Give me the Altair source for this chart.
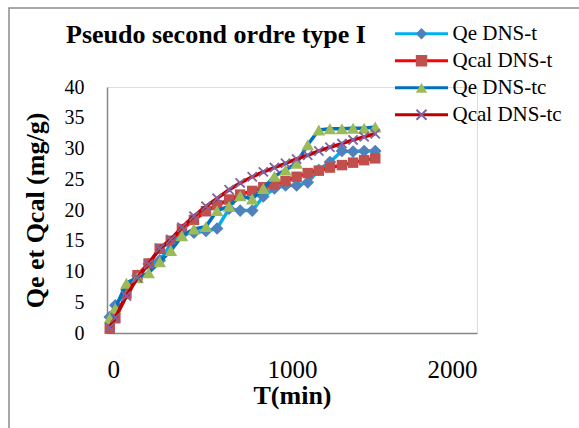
import altair as alt
import pandas as pd

# ---- data ----
t = [15, 45, 105, 165, 225, 285, 345, 405, 470, 535, 595, 660, 720, 785, 845,
     905, 965, 1025, 1085, 1145, 1205, 1270, 1330, 1390, 1450]

qe_t = [2.6, 4.5, 7.0, 9.3, 11.2, 11.8, 14.4, 16.0, 16.3, 16.6, 17.0, 20.2, 19.9,
        19.9, 22.2, 23.5, 24.0, 24.0, 24.5, 26.5, 27.8, 29.6, 29.5, 29.6, 29.6]
qcal_t = [0.7, 2.4, 6.4, 9.4, 11.3, 13.7, 15.0, 16.9, 18.4, 19.8, 20.8, 21.7, 22.5,
          23.1, 23.7, 24.2, 24.7, 25.4, 26.0, 26.4, 26.9, 27.3, 27.7, 28.1, 28.4]
qe_tc = [2.4, 4.0, 8.1, 9.0, 9.8, 11.6, 13.4, 15.8, 16.9, 17.3, 19.9, 20.6, 22.3,
         21.8, 23.5, 25.5, 26.5, 27.6, 30.6, 33.0, 33.2, 33.2, 33.3, 33.3, 33.5]
qcal_tc = [0.9, 2.5, 6.0, 9.0, 11.2, 13.8, 15.2, 17.2, 19.0, 20.6, 21.9, 23.3, 24.4,
           25.4, 26.2, 26.9, 27.6, 28.3, 28.9, 29.6, 30.2, 30.8, 31.4, 31.9, 32.4]

names = ["Qe DNS-t", "Qcal DNS-t", "Qe DNS-tc", "Qcal DNS-tc"]
marker_keys = ["m1", "m2", "m3", "m4"]
line_colors = ["#00B0F0", "#FF0000", "#0070C0", "#C00000"]
marker_colors = ["#4F81BD", "#C0504D", "#9BBB59", "#8064A2"]
x_path = ("M0,-0.25L0.75,-1L1,-0.75L0.25,0L1,0.75L0.75,1L0,0.25L-0.75,1"
          "L-1,0.75L-0.25,0L-1,-0.75L-0.75,-1Z")
shapes = ["diamond", "square", "triangle-up", x_path]
marker_sizes = [160, 110, 160, 110]

x_ticks = [0, 1000, 2000]
y_ticks = [0, 5, 10, 15, 20, 25, 30, 35, 40]

series_values = [qe_t, qcal_t, qe_tc, qcal_tc]
rows = []
for name, key, vals in zip(names, marker_keys, series_values):
    for ti, qi in zip(t, vals):
        rows.append({"t": ti, "q": qi, "series": name, "mk": key})
df = pd.DataFrame(rows)

FONT = "Liberation Serif"
GRAY = "#868686"

x_enc = alt.X("t:Q", scale=alt.Scale(domain=[0, 2000], nice=False),
              axis=alt.Axis(values=x_ticks, format="d", title="T(min)", grid=False,
                            ticks=False, domainColor=GRAY, domainWidth=1.5,
                            labelFont=FONT, labelFontSize=25, labelColor="black",
                            labelPadding=24, titleFont=FONT, titleFontSize=26,
                            titleFontWeight="bold", titleColor="black",
                            titlePadding=0))
y_enc = alt.Y("q:Q", scale=alt.Scale(domain=[0, 40], nice=False),
              axis=alt.Axis(values=y_ticks, title="Qe et Qcal (mg/g)", grid=False,
                            ticks=False, domainColor=GRAY, domainWidth=1.5,
                            labelFont=FONT, labelFontSize=20, labelColor="black",
                            labelPadding=23, titleFont=FONT, titleFontSize=26,
                            titleFontWeight="bold", titleColor="black",
                            titlePadding=16))

line_legend = alt.Legend(title=None, orient="none", legendX=286.5, legendY=-66.6,
                         symbolType="stroke", symbolSize=2809, symbolStrokeWidth=3,
                         clipHeight=26.7, rowPadding=0, padding=0, labelOffset=3,
                         labelFont=FONT, labelFontSize=21, labelColor="black",
                         labelLimit=300)
marker_legend = alt.Legend(title=None, orient="none", legendX=304, legendY=-66.6,
                           symbolSize=130, symbolStrokeWidth=0, symbolOpacity=1,
                           clipHeight=26.7, rowPadding=0, padding=0, labelOffset=3,
                           labelFont=FONT, labelFontSize=21, labelExpr="''")

stroke_enc = alt.Stroke("series:N", scale=alt.Scale(domain=names, range=line_colors),
                        legend=line_legend)
fill_enc = alt.Fill("mk:N", scale=alt.Scale(domain=marker_keys, range=marker_colors),
                    legend=marker_legend)
shape_enc = alt.Shape("mk:N", scale=alt.Scale(domain=marker_keys, range=shapes),
                      legend=marker_legend)

base = alt.Chart(df)
layers = []
border = alt.Chart(pd.DataFrame({"a": [0]})).mark_rect(
    filled=False, stroke="#8c8c8c", strokeWidth=1.5
).encode(x=alt.value(-98), x2=alt.value(520), y=alt.value(-79), y2=alt.value(400))
layers.append(border)

for name, size in zip(names, marker_sizes):
    sub = base.transform_filter(alt.datum.series == name)
    layers.append(sub.mark_line(strokeWidth=3.5, strokeJoin="round").encode(
        x=x_enc, y=y_enc, stroke=stroke_enc, order="t:Q"))
    layers.append(sub.mark_point(filled=True, opacity=1, size=size, strokeWidth=0).encode(
        x=x_enc, y=y_enc, fill=fill_enc, shape=shape_enc))

chart = alt.layer(*layers).properties(
    width=370, height=246,
    title=alt.TitleParams("Pseudo second ordre type I", anchor="start", frame="group",
                          dx=-41, offset=0, dy=62, baseline="alphabetic",
                          font=FONT, fontSize=26, fontWeight="bold", color="black"),
    autosize=alt.AutoSizeParams(type="none"),
    padding={"left": 107, "top": 87, "right": 102, "bottom": 95},
).configure_view(stroke=None).configure(background="white")

chart.save("out.html", embed_options={"renderer": "svg", "actions": False})
